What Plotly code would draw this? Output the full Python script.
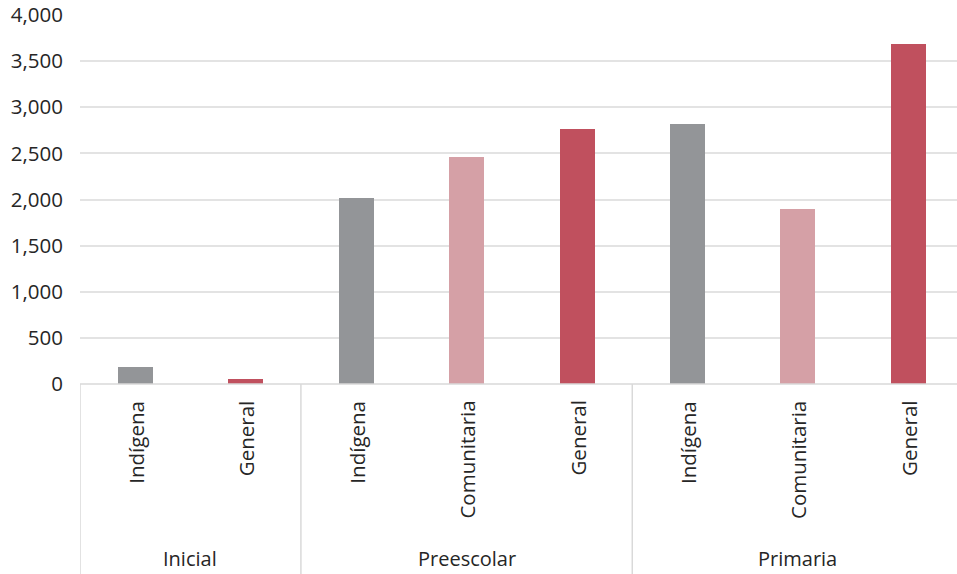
import plotly.graph_objects as go

# Data: teachers by education level and service type
levels = ["Inicial", "Preescolar", "Primaria"]
services = [
    ["Indígena", "General"],
    ["Indígena", "Comunitaria", "General"],
    ["Indígena", "Comunitaria", "General"],
]
values = [
    [188, 55],
    [2018, 2462, 2765],
    [2819, 1899, 3682],
]
y_ticks = [0, 500, 1000, 1500, 2000, 2500, 3000, 3500, 4000]

service_colors = {
    "Indígena": "#939598",
    "Comunitaria": "#d5a0a6",
    "General": "#c0505e",
}

FONT = "'Open Sans', Lato, sans-serif"
TEXT = "#262626"
GRID = "#e3e3e3"

# Flatten to sequential positions on a numeric axis
xs, ys, cols, labels = [], [], [], []
group_bounds = []
pos = 0
for lvl, svcs, vals in zip(levels, services, values):
    start = pos
    for s, v in zip(svcs, vals):
        xs.append(pos)
        ys.append(v)
        cols.append(service_colors[s])
        labels.append(s)
        pos += 1
    group_bounds.append((start, pos - 1))

fig = go.Figure()
fig.add_trace(go.Bar(
    x=xs, y=ys, width=0.317,
    marker=dict(color=cols, line=dict(width=0)),
    hoverinfo="y",
))

annotations = []
# Rotated service labels below each bar
for x, lab in zip(xs, labels):
    annotations.append(dict(
        x=x, y=0, xref="x", yref="paper", text=lab, showarrow=False,
        textangle=-90, xanchor="center", yanchor="top", yshift=-15,
        font=dict(family=FONT, size=20.5, color=TEXT),
    ))

shapes = []
# Group labels and separators
for lvl, (a, b) in zip(levels, group_bounds):
    annotations.append(dict(
        x=(a + b) / 2, y=0, xref="x", yref="paper", text=lvl, showarrow=False,
        xanchor="center", yanchor="middle", yshift=-174,
        font=dict(family=FONT, size=20, color=TEXT),
    ))
    shapes.append(dict(
        type="line", xref="x", yref="paper", x0=a - 0.5, x1=a - 0.5,
        y0=0, y1=-0.6, line=dict(color="#d9d9d9", width=1.5),
    ))
shapes.append(dict(
    type="line", xref="paper", yref="paper", x0=0, x1=1.1,
    y0=0, y1=0, line=dict(color="#d9d9d9", width=1.5),
))

fig.update_layout(
    width=957, height=574,
    margin=dict(l=80, r=0, t=15, b=190),
    paper_bgcolor="white", plot_bgcolor="white",
    showlegend=False,
    bargap=0,
    xaxis=dict(range=[-0.5, 7.44], showticklabels=False, showgrid=False,
               zeroline=False, showline=False, ticks=""),
    yaxis=dict(range=[0, 4000], tickvals=y_ticks,
               ticktext=[f"{v:,}" for v in y_ticks],
               showgrid=True, gridcolor=GRID, gridwidth=1.5,
               zeroline=False, showline=False, ticks="",
               ticklabelstandoff=16,
               tickfont=dict(family=FONT, size=20.5, color=TEXT)),
    annotations=annotations,
    shapes=shapes,
)

fig.write_html("out.html")
